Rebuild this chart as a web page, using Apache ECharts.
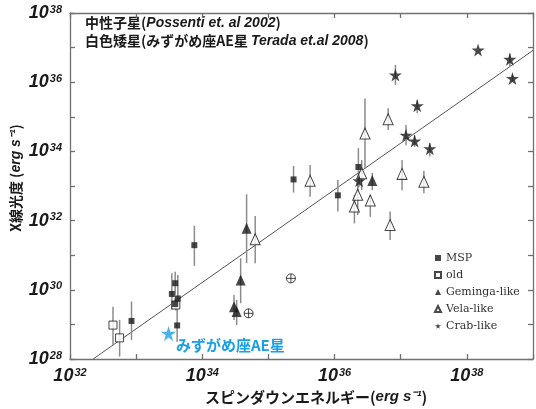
<!DOCTYPE html>
<html>
<head>
<meta charset="utf-8">
<script src="https://cdn.jsdelivr.net/npm/echarts@6/dist/echarts.min.js"></script>
<style>
  html, body { margin: 0; padding: 0; background: #fff; }
  #chart { width: 536px; height: 409px; }
</style>
</head>
<body>
<div id="chart"></div>
<script>
// All values are log10: [log Edot (erg/s), log Lx (erg/s), bar low, bar high]
const msp = [
  [32.93, 29.10, 28.55, 29.66],
  [33.88, 31.29, 30.69, 31.85],
  [33.59, 30.19, 29.85, 30.52],
  [33.54, 29.88, 29.42, 30.48],
  [33.63, 29.75, 29.56, 30.43],
  [33.59, 29.59, 29.45, 29.75],
  [33.62, 28.97, 28.50, 29.45],
  [35.38, 33.19, 32.81, 33.58],
  [36.05, 32.73, 32.26, 33.17],
  [36.36, 33.55, 32.95, 34.10]
];
const oldPsr = [
  [32.65, 28.98, 28.40, 29.51],
  [32.75, 28.61, 28.07, 29.13],
  [33.60, 29.56, 29.40, 29.72]
];
const geminga = [
  [34.67, 31.78, 30.77, 32.76],
  [34.58, 30.28, 29.61, 30.91],
  [34.48, 29.51, 29.13, 29.85],
  [34.52, 29.37, 28.98, 29.71],
  [36.57, 33.16, 32.88, 33.38]
];
const vela = [
  [34.80, 31.46, 30.77, 32.13],
  [35.63, 33.15, 32.69, 33.61],
  [36.81, 34.93, 34.62, 35.25],
  [36.46, 34.52, 33.51, 35.53],
  [36.41, 33.37, 32.88, 33.75],
  [37.02, 33.35, 32.88, 33.75],
  [37.35, 33.12, 32.79, 33.43],
  [36.35, 32.75, 32.16, 33.03],
  [36.54, 32.58, 32.11, 32.74],
  [36.30, 32.41, 31.92, 32.74],
  [36.84, 31.87, 31.44, 32.26]
];
const crab = [
  [36.92, 36.21, 35.92, 36.50],
  [37.25, 35.32, 35.11, 35.49],
  [37.08, 34.47, 34.18, 34.76],
  [37.21, 34.30, 34.13, 34.47],
  [37.44, 34.08, 33.85, 34.24],
  [36.37, 33.15, 32.98, 33.41],
  [38.17, 36.93, 36.93, 36.93],
  [38.65, 36.66, 36.45, 36.84],
  [38.69, 36.11, 36.02, 36.20]
];
const crossCircle = [
  [35.34, 30.33],
  [34.70, 29.32]
];
const aeAqr = [[33.49, 28.74]];
// Possenti et al. (2002) relation, end points
const fitLine = [[32.35, 28.0], [39.0, 36.92]];

const xTickRange = [32, 39];
const yTickRange = [28, 38];
const legendNames = ['MSP', 'old', 'Geminga-like', 'Vela-like', 'Crab-like'];

const INK = '#1a1a1a';
const STAR = 'path://M50,0 L61,35 L98,35 L68,57 L79,91 L50,70 L21,91 L32,57 L2,35 L39,35 Z';
const CIRCLE_PLUS = 'path://M10,0 A10,10 0 1,1 9.99,0 Z M10,0 L10,20 M0,10 L20,10';

const pts = rows => rows.map(r => [r[0], r[1]]);
const bars = [].concat(msp, oldPsr, geminga, vela, crab)
  .filter(r => r[3] > r[2])
  .map(r => [r[0], r[2], r[3]]);

const powLabel = v => (v % 2 === 0 ? '{b|10}{s|' + v + '}' : '');
const labelRich = {
  b: { fontSize: 18, fontWeight: 'bold', fontStyle: 'italic', fontFamily: 'Liberation Sans', color: INK },
  s: { fontSize: 11, fontWeight: 'bold', fontStyle: 'italic', fontFamily: 'Liberation Sans', color: INK, verticalAlign: 'top', padding: [0, 0, 6, 1] }
};
const axisLineStyle = { color: '#707070', width: 1.3 };
const tickStyle = { inside: true, length: 5, lineStyle: { color: '#707070', width: 1.3 } };

const baseX = {
  type: 'value', min: xTickRange[0], max: xTickRange[1], interval: 1,
  axisLine: { show: true, lineStyle: axisLineStyle },
  axisTick: tickStyle, splitLine: { show: false }
};
const baseY = {
  type: 'value', min: yTickRange[0], max: yTickRange[1], interval: 1,
  axisLine: { show: true, lineStyle: axisLineStyle },
  axisTick: tickStyle, splitLine: { show: false }
};

const jp = 'Noto Sans CJK JP';
const noteRich = {
  j: { fontFamily: jp, fontWeight: 'bold', fontSize: 14, fill: INK },
  e: { fontFamily: 'Liberation Sans', fontWeight: 'bold', fontStyle: 'italic', fontSize: 14, fill: INK }
};
const option = {
  animation: false,
  backgroundColor: '#fff',
  grid: { left: 70, right: 1, top: 13, bottom: 50 },
  xAxis: [
    Object.assign({}, baseX, { position: 'bottom', axisLabel: { margin: 8, formatter: powLabel, rich: labelRich } }),
    Object.assign({}, baseX, { position: 'top', axisLabel: { show: false } })
  ],
  yAxis: [
    Object.assign({}, baseY, { position: 'left', axisLabel: { margin: 8, formatter: powLabel, rich: labelRich } }),
    Object.assign({}, baseY, { position: 'right', axisLabel: { show: false } })
  ],
  legend: {
    data: legendNames,
    orient: 'vertical',
    left: 429, top: 247,
    itemWidth: 6, itemHeight: 6, itemGap: 5,
    textStyle: { fontFamily: 'DejaVu Serif', fontSize: 11, color: '#333', lineHeight: 12 }
  },
  graphic: [
    {
      type: 'text', left: 85, top: 16,
      style: { text: '{j|中性子星(}{e|Possenti et. al 2002}{j|)}', rich: noteRich }
    },
    {
      type: 'text', left: 85, top: 34,
      style: { text: '{j|白色矮星(みずがめ座AE星 }{e|Terada et.al 2008}{j|)}', rich: noteRich }
    },
    {
      type: 'text', x: 176, y: 345,
      style: {
        text: 'みずがめ座AE星',
        fontFamily: jp, fontWeight: 'bold', fontSize: 15, fill: '#1a9fe4',
        verticalAlign: 'middle', align: 'left'
      }
    },
    {
      type: 'text', x: 316, y: 397,
      style: {
        text: '{j|スピンダウンエネルギー(}{e|erg s⁻¹}{j|)}',
        align: 'center', verticalAlign: 'middle',
        rich: {
          j: { fontFamily: jp, fontWeight: 'bold', fontSize: 15, fill: INK },
          e: { fontFamily: 'Liberation Sans', fontWeight: 'bold', fontStyle: 'italic', fontSize: 15, fill: INK }
        }
      }
    },
    {
      type: 'text', x: 16, y: 178, rotation: Math.PI / 2,
      style: {
        text: '{j|X線光度 (}{e|erg s⁻¹}{j|)}',
        align: 'center', verticalAlign: 'middle',
        rich: {
          j: { fontFamily: jp, fontWeight: 'bold', fontSize: 14, fill: INK },
          e: { fontFamily: 'Liberation Sans', fontWeight: 'bold', fontStyle: 'italic', fontSize: 14, fill: INK }
        }
      }
    }
  ],
  series: [
    {
      type: 'line', data: fitLine, symbol: 'none', silent: true,
      lineStyle: { color: '#555', width: 1 }, z: 1
    },
    {
      type: 'custom', data: bars, z: 2, silent: true,
      encode: { x: 0, y: [1, 2] },
      renderItem: (params, api) => {
        const a = api.coord([api.value(0), api.value(1)]);
        const b = api.coord([api.value(0), api.value(2)]);
        return {
          type: 'line',
          shape: { x1: a[0], y1: a[1], x2: b[0], y2: b[1] },
          style: { stroke: '#8c8c8c', lineWidth: 1.5 }
        };
      }
    },
    {
      name: 'MSP', type: 'scatter', data: pts(msp), symbol: 'rect', symbolSize: 6, z: 5,
      itemStyle: { color: INK }
    },
    {
      name: 'old', type: 'scatter', data: pts(oldPsr), symbol: 'rect', symbolSize: 8, z: 4,
      itemStyle: { color: '#fff', borderColor: INK, borderWidth: 1 }
    },
    {
      name: 'Geminga-like', type: 'scatter', data: pts(geminga), symbol: 'triangle', symbolSize: [10, 11], z: 5,
      itemStyle: { color: INK }
    },
    {
      name: 'Vela-like', type: 'scatter', data: pts(vela), symbol: 'triangle', symbolSize: [10, 11], z: 4,
      itemStyle: { color: '#fff', borderColor: INK, borderWidth: 1 }
    },
    {
      name: 'Crab-like', type: 'scatter', data: pts(crab), symbol: STAR, symbolSize: 13, z: 5,
      itemStyle: { color: INK }
    },
    {
      type: 'scatter', data: crossCircle, symbol: CIRCLE_PLUS, symbolSize: 9, z: 4,
      itemStyle: { color: '#fff', borderColor: INK, borderWidth: 1 }
    },
    {
      type: 'scatter', data: aeAqr, symbol: STAR, symbolSize: 15, z: 6,
      itemStyle: { color: '#1a9fe4' }
    }
  ]
};

echarts.init(document.getElementById('chart'), null, { renderer: 'canvas' }).setOption(option);
</script>
</body>
</html>
